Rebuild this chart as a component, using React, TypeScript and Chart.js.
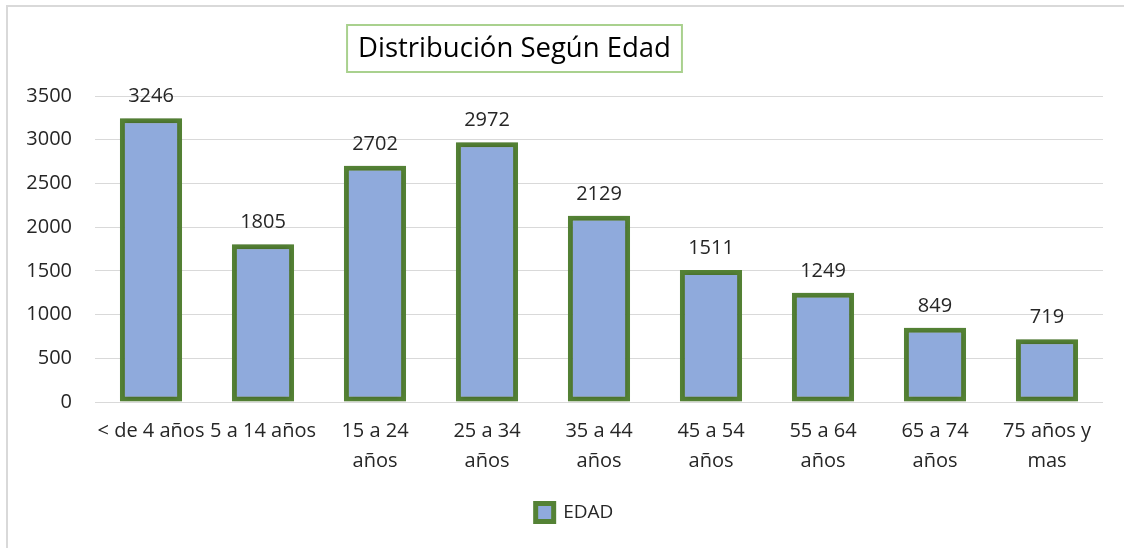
import React, { useEffect, useRef } from "react";
import { Chart, registerables } from "chart.js";

Chart.register(...registerables);

const TITLE = "Distribución Según Edad";
const SERIES_NAME = "EDAD";
const CATEGORIES: string[][] = [
  ["< de 4 años"],
  ["5 a 14 años"],
  ["15 a 24", "años"],
  ["25 a 34", "años"],
  ["35 a 44", "años"],
  ["45 a 54", "años"],
  ["55 a 64", "años"],
  ["65 a 74", "años"],
  ["75 años y", "mas"],
];
const VALUES: number[] = [3246, 1805, 2702, 2972, 2129, 1511, 1249, 849, 719];
const Y_MIN = 0;
const Y_MAX = 3500;
const Y_STEP = 500;

const FONT = "'Open Sans', 'Noto Sans', sans-serif";
const TEXT_COLOR = "#262626";

const titlePlugin = {
  id: "boxedTitle",
  afterDraw(chart: any) {
    const ctx = chart.ctx;
    ctx.save();
    ctx.font = `27.5px ${FONT}`;
    const w = ctx.measureText(TITLE).width;
    const cx = 514.5;
    const cy = 48.5;
    const bw = w + 22;
    const bh = 47;
    ctx.strokeStyle = "#A9D18E";
    ctx.lineWidth = 2;
    ctx.strokeRect(cx - bw / 2, cy - bh / 2, bw, bh);
    ctx.fillStyle = "#000000";
    ctx.textAlign = "center";
    ctx.textBaseline = "middle";
    ctx.fillText(TITLE, cx, cy + 1);
    ctx.restore();
  },
};

const legendShiftPlugin = {
  id: "legendShift",
  afterLayout(chart: any) {
    const lg = chart.legend;
    if (lg) {
      lg.left = 46;
      lg.width = lg.right - lg.left;
      lg.top += 1;
      lg.bottom += 1;
    }
  },
};

const shadowPlugin = {
  id: "barShadow",
  beforeDatasetsDraw(chart: any) {
    const ctx = chart.ctx;
    ctx.save();
    ctx.shadowColor = "rgba(0,0,0,0.3)";
    ctx.shadowBlur = 5;
    ctx.shadowOffsetX = 0;
    ctx.shadowOffsetY = 0;
  },
  afterDatasetsDraw(chart: any) {
    chart.ctx.restore();
  },
};

const valueLabelPlugin = {
  id: "valueLabels",
  afterDraw(chart: any) {
    const ctx = chart.ctx;
    const meta = chart.getDatasetMeta(0);
    ctx.save();
    ctx.font = `20px ${FONT}`;
    ctx.fillStyle = TEXT_COLOR;
    ctx.textAlign = "center";
    ctx.textBaseline = "alphabetic";
    meta.data.forEach((bar: any, i: number) => {
      ctx.fillText(String(VALUES[i]), bar.x, bar.y - 16);
    });
    ctx.restore();
  },
};

export default function App() {
  const ref = useRef<HTMLCanvasElement>(null);

  useEffect(() => {
    if (!ref.current) return;
    const chart = new Chart(ref.current, {
      type: "bar",
      data: {
        labels: CATEGORIES,
        datasets: [
          {
            label: SERIES_NAME,
            data: VALUES,
            backgroundColor: "#8FAADC",
            borderColor: "#548235",
            borderWidth: 5,
            borderSkipped: false,
            barPercentage: 0.555,
            categoryPercentage: 1,
          },
        ],
      },
      options: {
        animation: false,
        responsive: false,
        maintainAspectRatio: false,
        layout: { padding: { left: 0, right: 21, top: 96, bottom: 17 } },
        plugins: {
          title: { display: false },
          tooltip: { enabled: false },
          legend: {
            display: true,
            position: "bottom",
            labels: {
              font: { family: FONT, size: 19 },
              color: TEXT_COLOR,
              boxWidth: 18,
              boxHeight: 18,
              padding: 10,
            },
          },
        },
        scales: {
          x: {
            grid: { display: false, drawTicks: false },
            border: { display: false },
            ticks: {
              autoSkip: false,
              maxRotation: 0,
              minRotation: 0,
              padding: 14,
              color: TEXT_COLOR,
              font: { family: FONT, size: 20, lineHeight: 1.5 },
            },
            afterFit(scale: any) {
              scale.height = 90;
            },
          },
          y: {
            min: Y_MIN,
            max: Y_MAX,
            ticks: {
              stepSize: Y_STEP,
              padding: 23,
              color: TEXT_COLOR,
              font: { family: FONT, size: 20 },
              callback: (v: any) => String(v),
            },
            grid: { color: "#D9D9D9", lineWidth: 1, drawTicks: false },
            border: { display: false },
            afterFit(scale: any) {
              scale.width = 95;
            },
          },
        },
      },
      plugins: [shadowPlugin, valueLabelPlugin, titlePlugin, legendShiftPlugin],
    } as any);
    return () => chart.destroy();
  }, []);

  return (
    <div
      style={{
        position: "fixed",
        left: 0,
        top: 0,
        width: 1124,
        height: 548,
        overflow: "hidden",
        background: "#ffffff",
      }}
    >
      <div
        style={{
          position: "absolute",
          left: 6,
          top: 5,
          width: 1200,
          height: 600,
          border: "2px solid #D9D9D9",
          boxSizing: "border-box",
        }}
      />
      <canvas
        ref={ref}
        width={1124}
        height={548}
        style={{ position: "absolute", left: 0, top: 0, width: 1124, height: 548 }}
      />
    </div>
  );
}
